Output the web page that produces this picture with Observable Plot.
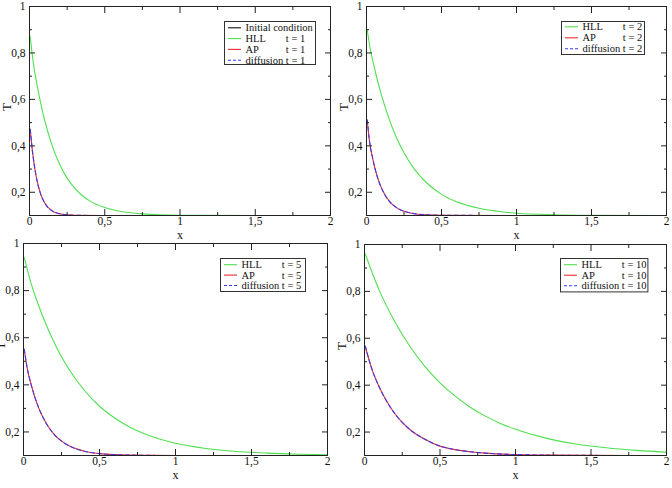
<!DOCTYPE html>
<html><head><meta charset="utf-8">
<script src="https://cdn.jsdelivr.net/npm/d3@7"></script>
<script src="https://cdn.jsdelivr.net/npm/@observablehq/plot@0.6"></script>
<style>
body{margin:0;background:#fff;}
#wrap{position:relative;width:672px;height:488px;overflow:hidden;font-family:"Liberation Serif","Times New Roman",serif;}
#wrap svg.panel{position:absolute;}
#wrap svg.leg{position:absolute;overflow:visible;}
</style></head><body><div id="wrap"></div>
<script>
// ---- tick values ----
const xMajor = [0, 0.5, 1, 1.5, 2];
const xMinor = [0.25, 0.75, 1.25, 1.75];
const yMajor = [0.2, 0.4, 0.6, 0.8, 1];
const yMinor = [0.3, 0.5, 0.7, 0.9];
const xLabel = ["x"];
const yLabel = ["T"];

// ---- panel 1 (t = 1) ----
const init1X = [0, 2];
const init1T = [0.1, 0.1];
const hll1X = [0.005,0.025,0.05,0.075,0.1,0.15,0.2,0.25,0.3,0.35,0.4,0.5,0.6,0.75,1,1.5,2];
const hll1T = [0.87,0.758,0.663,0.582,0.512,0.402,0.321,0.261,0.218,0.186,0.163,0.134,0.118,0.107,0.101,0.1,0.1];
const ap1X = [0.005,0.015,0.025,0.035,0.05,0.075,0.1,0.15,0.2,0.25,0.3,0.5,1,2];
const ap1T = [0.47,0.403,0.348,0.303,0.25,0.191,0.155,0.12,0.1075,0.1027,0.101,0.1,0.1,0.1];
const dif1X = [0.005,0.015,0.025,0.035,0.05,0.075,0.1,0.15,0.2,0.25,0.3,0.5,1,2];
const dif1T = [0.472,0.404,0.349,0.304,0.25,0.191,0.155,0.12,0.1075,0.1027,0.101,0.1,0.1,0.1];

// ---- panel 2 (t = 2) ----
const hll2X = [0.005,0.025,0.05,0.075,0.1,0.15,0.2,0.25,0.3,0.35,0.4,0.5,0.6,0.75,0.9,1,1.25,1.5,2];
const hll2T = [0.9,0.817,0.744,0.677,0.618,0.517,0.435,0.37,0.317,0.275,0.241,0.191,0.159,0.131,0.116,0.11,0.1035,0.101,0.1];
const ap2X = [0.005,0.02,0.04,0.06,0.08,0.1,0.15,0.2,0.25,0.3,0.4,0.5,1,2];
const ap2T = [0.51,0.419,0.349,0.294,0.251,0.218,0.163,0.134,0.118,0.11,0.103,0.101,0.1,0.1];
const dif2X = [0.005,0.02,0.04,0.06,0.08,0.1,0.15,0.2,0.25,0.3,0.4,0.5,1,2];
const dif2T = [0.512,0.42,0.35,0.294,0.251,0.218,0.163,0.134,0.118,0.11,0.103,0.101,0.1,0.1];

// ---- panel 3 (t = 5) ----
const hll5X = [0.005,0.05,0.1,0.15,0.2,0.25,0.3,0.4,0.5,0.6,0.7,0.8,0.9,1,1.2,1.4,1.6,1.8,2];
const hll5T = [0.94,0.831,0.736,0.654,0.582,0.519,0.465,0.377,0.309,0.259,0.22,0.191,0.169,0.152,0.13,0.117,0.11,0.1056,0.103];
const ap5X = [0.005,0.025,0.05,0.075,0.1,0.15,0.2,0.25,0.3,0.4,0.5,0.6,0.8,1,2];
const ap5T = [0.55,0.468,0.402,0.347,0.302,0.236,0.191,0.161,0.141,0.118,0.108,0.1037,0.1007,0.1,0.1];
const dif5X = [0.005,0.025,0.05,0.075,0.1,0.15,0.2,0.25,0.3,0.4,0.5,0.6,0.8,1,2];
const dif5T = [0.552,0.469,0.402,0.347,0.302,0.236,0.191,0.161,0.141,0.118,0.108,0.1037,0.1007,0.1,0.1];

// ---- panel 4 (t = 10) ----
const hll10X = [0.005,0.1,0.2,0.3,0.4,0.5,0.6,0.7,0.8,0.9,1,1.2,1.4,1.6,1.8,2];
const hll10T = [0.96,0.801,0.672,0.566,0.48,0.41,0.353,0.306,0.268,0.237,0.212,0.174,0.149,0.133,0.122,0.1145];
const ap10X = [0.005,0.05,0.1,0.15,0.2,0.25,0.3,0.4,0.5,0.6,0.7,0.8,1,1.2,1.5,2];
const ap10T = [0.565,0.466,0.389,0.328,0.279,0.241,0.211,0.169,0.14,0.125,0.116,0.11,0.104,0.1015,0.1004,0.1];
const dif10X = [0.005,0.05,0.1,0.15,0.2,0.25,0.3,0.4,0.5,0.6,0.7,0.8,1,1.2,1.5,2];
const dif10T = [0.567,0.467,0.389,0.328,0.279,0.241,0.211,0.169,0.14,0.125,0.116,0.11,0.104,0.1015,0.1004,0.1];

const GREEN = "#4fe04f", RED = "#ee2a2a", BLUE = "#3a3aee", BLACK = "#111";
const FONT = '"Liberation Serif", "Times New Roman", serif';
const fmt = d => String(d).replace(".", ",");
const rows = (xs, ts) => xs.map((x, i) => ({x, T: ts[i]}));

function drawPanel(cfg) {
  const {left, top, width, height, ml, mr, mt, mb, series} = cfg;
  const marks = [
    ...series.map(s => Plot.line(rows(s.x, s.T), {x: "x", y: "T", stroke: s.color, strokeWidth: 1.1,
      strokeDasharray: s.dash ? "4,3" : null, curve: "monotone-x"})),
    Plot.frame({stroke: "#222", strokeWidth: 1}),
    // tick labels
    Plot.axisX(xMajor, {anchor: "bottom", tickSize: 0, tickPadding: 1, tickFormat: fmt, label: null, fontSize: 11.5}),
    Plot.axisY(yMajor, {anchor: "left", tickSize: 0, tickPadding: 4, tickFormat: fmt, label: null, fontSize: 11.5}),
    // axis titles
    Plot.text(xLabel, {text: d => d, frameAnchor: "bottom", dy: 23, fontSize: 12, fill: "#111"}),
    Plot.text(yLabel, {text: d => d, frameAnchor: "left", dx: -23, rotate: -90, fontSize: 13, fill: "#111"}),
    // inward ticks
    Plot.axisX(xMajor, {anchor: "bottom", tickSize: 6, dy: -6, fill: "none", label: null, stroke: "#222"}),
    Plot.axisX(xMinor, {anchor: "bottom", tickSize: 3, dy: -3, fill: "none", label: null, stroke: "#222"}),
    Plot.axisX(xMajor, {anchor: "top", tickSize: 6, dy: 6, fill: "none", label: null, stroke: "#222"}),
    Plot.axisX(xMinor, {anchor: "top", tickSize: 3, dy: 3, fill: "none", label: null, stroke: "#222"}),
    Plot.axisY(yMajor, {anchor: "left", tickSize: 6, dx: 6, fill: "none", label: null, stroke: "#222"}),
    Plot.axisY(yMinor, {anchor: "left", tickSize: 3, dx: 3, fill: "none", label: null, stroke: "#222"}),
    Plot.axisY(yMajor, {anchor: "right", tickSize: 6, dx: -6, fill: "none", label: null, stroke: "#222"}),
    Plot.axisY(yMinor, {anchor: "right", tickSize: 3, dx: -3, fill: "none", label: null, stroke: "#222"})
  ];
  const svg = Plot.plot({
    width, height, marginLeft: ml, marginRight: mr, marginTop: mt, marginBottom: mb,
    x: {domain: [0, 2]}, y: {domain: [0.1, 1]},
    style: {fontFamily: FONT, fontSize: "12px", background: "none", overflow: "visible", color: "#111"},
    marks
  });
  svg.classList.add("panel");
  svg.style.left = left + "px";
  svg.style.top = top + "px";
  svg.style.maxWidth = "none";
  document.getElementById("wrap").appendChild(svg);
}

function drawLegend(cfg) {
  const {left, top, width, height, first, step, entries} = cfg;
  const svg = d3.select("#wrap").append("svg").attr("class", "leg")
    .attr("width", width).attr("height", height)
    .style("left", left + "px").style("top", top + "px");
  svg.append("rect").attr("x", 0.5).attr("y", 0.5).attr("width", width - 1).attr("height", height - 1)
    .attr("fill", "#fff").attr("stroke", "#333").attr("stroke-width", 1);
  const g = svg.append("g").style("font-family", FONT).style("font-size", "10.5px");
  const probe = g.append("text").attr("x", 0).attr("y", -50).text("diffusion\u00a0");
  const tx = 21.5 + probe.node().getComputedTextLength();
  probe.remove();
  entries.forEach((e, i) => {
    const y = first + i * step;
    g.append("line").attr("x1", 4).attr("x2", 17).attr("y1", y).attr("y2", y)
      .attr("stroke", e.color).attr("stroke-width", 1.1).attr("stroke-dasharray", e.dash ? "3,2" : null);
    g.append("text").attr("x", 21.5).attr("y", y).attr("dy", "0.35em").attr("fill", "#111").text(e.label);
    if (e.t) g.append("text").attr("x", tx).attr("y", y).attr("dy", "0.35em").attr("fill", "#111").text(e.t);
  });
}

drawPanel({left: 0, top: 0, width: 340, height: 240, ml: 29, mr: 10, mt: 6, mb: 25, series: [
  {x: init1X, T: init1T, color: BLACK},
  {x: hll1X, T: hll1T, color: GREEN},
  {x: ap1X, T: ap1T, color: RED},
  {x: dif1X, T: dif1T, color: BLUE, dash: true}]});
drawPanel({left: 332, top: 0, width: 340, height: 240, ml: 34, mr: 6, mt: 6, mb: 25, series: [
  {x: hll2X, T: hll2T, color: GREEN},
  {x: ap2X, T: ap2T, color: RED},
  {x: dif2X, T: dif2T, color: BLUE, dash: true}]});
drawPanel({left: 0, top: 236, width: 336, height: 244, ml: 23, mr: 9, mt: 7, mb: 25, series: [
  {x: hll5X, T: hll5T, color: GREEN},
  {x: ap5X, T: ap5T, color: RED},
  {x: dif5X, T: dif5T, color: BLUE, dash: true}]});
drawPanel({left: 330, top: 236, width: 342, height: 244, ml: 34, mr: 6, mt: 8, mb: 25, series: [
  {x: hll10X, T: hll10T, color: GREEN},
  {x: ap10X, T: ap10T, color: RED},
  {x: dif10X, T: dif10T, color: BLUE, dash: true}]});

drawLegend({left: 224, top: 20.5, width: 92, height: 44, first: 6.8, step: 10.8, entries: [
  {label: "Initial condition", color: BLACK},
  {label: "HLL", t: "t = 1", color: GREEN},
  {label: "AP", t: "t = 1", color: RED},
  {label: "diffusion t = 1", color: BLUE, dash: true}]});
drawLegend({left: 560.5, top: 20.5, width: 84, height: 34, first: 5.8, step: 11, entries: [
  {label: "HLL", t: "t = 2", color: GREEN},
  {label: "AP", t: "t = 2", color: RED},
  {label: "diffusion t = 2", color: BLUE, dash: true}]});
drawLegend({left: 220, top: 258.3, width: 86, height: 34, first: 6.7, step: 10.4, entries: [
  {label: "HLL", t: "t = 5", color: GREEN},
  {label: "AP", t: "t = 5", color: RED},
  {label: "diffusion t = 5", color: BLUE, dash: true}]});
drawLegend({left: 560.3, top: 258.3, width: 88.4, height: 34.4, first: 6.7, step: 10.5, entries: [
  {label: "HLL", t: "t = 10", color: GREEN},
  {label: "AP", t: "t = 10", color: RED},
  {label: "diffusion t = 10", color: BLUE, dash: true}]});
</script></body></html>
